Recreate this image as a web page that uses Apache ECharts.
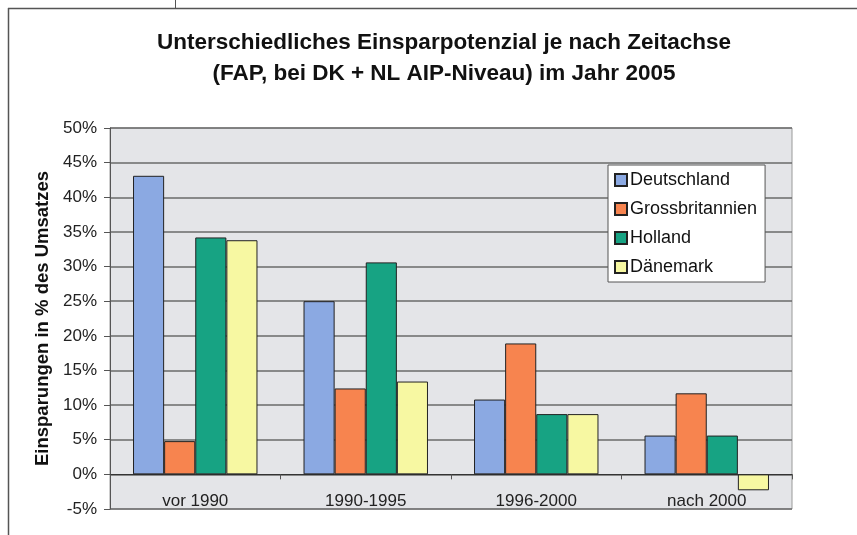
<!DOCTYPE html>
<html>
<head>
<meta charset="utf-8">
<script src="https://cdn.jsdelivr.net/npm/echarts@6/dist/echarts.min.js"></script>
<style>
  html, body { margin: 0; padding: 0; background: #fff; }
  #main { width: 857px; height: 535px; }
</style>
</head>
<body>
<div id="main"></div>
<script>
var zeitraeume = ['vor 1990', '1990-1995', '1996-2000', 'nach 2000'];
var laender = ['Deutschland', 'Grossbritannien', 'Holland', 'Dänemark'];
var deutschland = [43.1, 25.0, 10.8, 5.6];
var grossbritannien = [4.8, 12.4, 18.9, 11.7];
var holland = [34.2, 30.6, 8.7, 5.6];
var daenemark = [33.8, 13.4, 8.7, -2.3];
var farben = ['#8ba9e2', '#f7844f', '#17a383', '#f7f8a2'];

var werte = [deutschland, grossbritannien, holland, daenemark];
var font = 'Liberation Sans, Arial, sans-serif';

var myChart = echarts.init(document.getElementById('main'));

var series = laender.map(function (name, i) {
    return {
        name: name,
        type: 'bar',
        data: werte[i],
        barGap: '0%',
        barCategoryGap: '27%',
        itemStyle: { color: farben[i], borderColor: '#222', borderWidth: 1 }
    };
});

option = {
    backgroundColor: '#fff',
    animation: false,
    title: {
        text: 'Unterschiedliches Einsparpotenzial je nach Zeitachse\n(FAP, bei DK + NL AIP-Niveau) im Jahr 2005',
        left: 439,
        textAlign: 'center',
        top: 22,
        textStyle: { fontFamily: font, fontSize: 22.5, fontWeight: 'bold', color: '#111', lineHeight: 31 }
    },
    legend: {
        orient: 'vertical',
        left: 608,
        top: 165,
        width: 156,
        padding: [6, 8, 6, 6],
        backgroundColor: '#fff',
        borderColor: '#555',
        borderWidth: 1,
        itemWidth: 12,
        itemHeight: 12,
        itemGap: 11,
        icon: 'rect',
        textStyle: { fontFamily: font, fontSize: 18, color: '#111', padding: [0, 0, 0, -2] },
        data: laender
    },
    grid: {
        left: 110,
        right: 65,
        top: 128,
        bottom: 26,
        outerBoundsMode: 'none',
        show: true,
        backgroundColor: '#e4e5e8',
        borderColor: '#9a9a9a',
        borderWidth: 1
    },
    xAxis: {
        type: 'category',
        data: zeitraeume,
        axisLine: { onZero: true, lineStyle: { color: '#333', width: 1 } },
        axisTick: { show: true, length: 5, lineStyle: { color: '#555' } },
        axisLabel: { margin: -16, fontFamily: font, fontSize: 17, color: '#222' }
    },
    yAxis: {
        type: 'value',
        min: -5,
        max: 50,
        interval: 5,
        name: 'Einsparungen in % des Umsatzes',
        nameLocation: 'middle',
        nameRotate: 90,
        nameGap: 58,
        nameTextStyle: { fontFamily: font, fontSize: 18.5, fontWeight: 'bold', color: '#111' },
        axisLine: { show: true, lineStyle: { color: '#555' } },
        axisTick: { show: true, length: 6, lineStyle: { color: '#555' } },
        axisLabel: {
            margin: 13,
            fontFamily: font,
            fontSize: 17,
            color: '#222',
            formatter: function (v) { return v + '%'; }
        },
        splitLine: { lineStyle: { color: '#6a6a6a', width: 1.5 } }
    },
    graphic: [
        { type: 'line', shape: { x1: 8, y1: 8.5, x2: 857, y2: 8.5 }, style: { stroke: '#555', lineWidth: 1.5 } },
        { type: 'line', shape: { x1: 8.5, y1: 8, x2: 8.5, y2: 535 }, style: { stroke: '#555', lineWidth: 1.5 } },
        { type: 'line', shape: { x1: 175.5, y1: 0, x2: 175.5, y2: 8 }, style: { stroke: '#555', lineWidth: 1 } }
    ],
    series: series
};
myChart.setOption(option);
</script>
</body>
</html>
